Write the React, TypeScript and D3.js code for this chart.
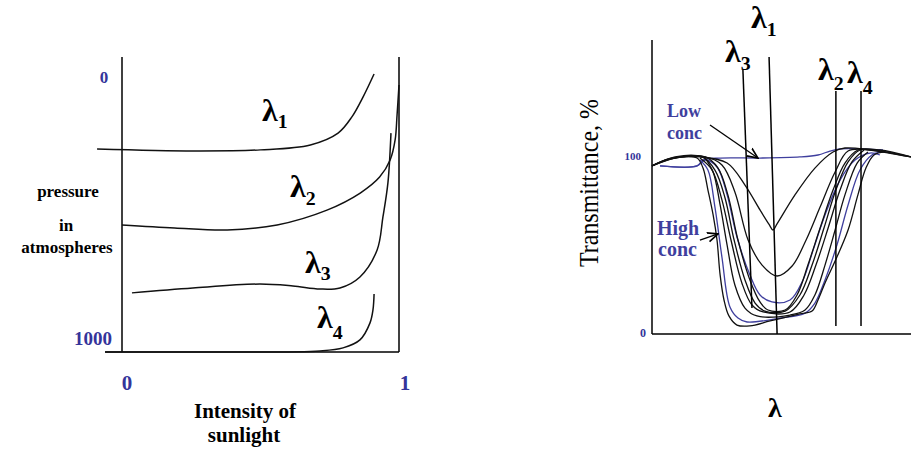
import * as d3 from 'd3'

// ---- left panel: pressure vs intensity of sunlight ----
// points are [intensity, pressure in atm]
const lambda1 = [[-0.09, 262], [0.26, 269], [0.5, 265], [0.68, 247], [0.78, 204], [0.83, 145], [0.87, 73], [0.91, -11]]
const lambda2 = [[0, 538], [0.19, 549], [0.38, 556], [0.56, 538], [0.74, 484], [0.86, 422], [0.93, 364], [0.968, 302], [0.986, 229], [0.993, 138], [1.0, 29]]
const lambda3 = [[0.036, 785], [0.256, 767], [0.498, 753], [0.617, 760], [0.715, 771], [0.787, 767], [0.859, 727], [0.921, 629], [0.942, 509], [0.96, 385], [0.971, 204]]
const lambda4 = [[-0.061, 1000], [0.379, 1000], [0.715, 996], [0.798, 985], [0.859, 956], [0.895, 895], [0.906, 847], [0.91, 789]]
const pressureTicks = ['0', '1000']
const intensityTicks = ['0', '1']

// ---- right panel: transmittance spectra ----
// points are [wavelength (arbitrary units), transmittance %]
const lowConc = [[3.1, 93.9], [17.4, 93.9], [19.7, 97.2], [26.3, 98.3], [41.7, 98.3], [57.1, 98.9], [64.1, 100], [68.7, 102.2], [72.6, 103.4], [81.1, 103.4], [89.2, 102.8]]
const specA = [[0, 93.9], [6.9, 97.8], [18.5, 98.9], [29.0, 95.5], [35.9, 83.2], [41.7, 69.3], [45.2, 61.2], [46.7, 58.1], [48.4, 61.8], [55.2, 77.7], [62.9, 92.7], [69.9, 101.7], [74.5, 103.9], [84.2, 102.8], [100, 98.9]]
const specB = [[0, 93.9], [7.7, 98.3], [20.5, 98.9], [27.0, 94.4], [32.0, 79.3], [37.1, 52.5], [42.5, 38.5], [48.3, 32.4], [54.1, 38.0], [59.5, 52.5], [64.9, 70.9], [70.7, 90.5], [75.7, 102.2], [84.2, 102.8], [100, 98.9]]
const specC = [[3.1, 93.9], [17.4, 93.9], [20.5, 97.2], [25.1, 93.3], [29.0, 77.7], [32.8, 54.2], [37.8, 33.0], [41.7, 21.8], [46.3, 17.9], [53.3, 19.0], [58.3, 30.2], [62.2, 46.9], [66.8, 66.5], [72.6, 86.0], [78.4, 97.2], [84.2, 101.1], [88.0, 100]]
const specD = [[0, 93.9], [8.9, 98.3], [20.5, 98.9], [25.5, 92.7], [29.3, 77.7], [33.2, 52.5], [37.8, 30.2], [41.7, 17.9], [44.8, 13.4], [51.4, 13.4], [56.0, 21.8], [60.2, 38.5], [64.9, 59.2], [69.9, 80.4], [74.5, 95.5], [79.5, 102.8], [88.0, 102.8], [100, 98.9]]
const specE = [[0, 93.9], [8.9, 98.9], [19.3, 98.9], [24.3, 91.6], [28.2, 76.0], [31.7, 52.5], [35.9, 30.2], [39.8, 17.3], [43.6, 12.8], [51.4, 12.8], [57.1, 21.8], [61.8, 38.5], [66.4, 59.2], [71.0, 80.4], [75.7, 96.1], [80.3, 102.8], [88.0, 102.2]]
const specF = [[18.5, 98.3], [23.2, 91.6], [27.0, 74.9], [30.5, 52.5], [34.7, 28.5], [38.6, 16.2], [42.9, 12.3], [53.3, 12.3], [58.7, 21.8], [63.3, 38.5], [68.0, 59.2], [72.6, 80.4], [77.2, 96.1], [81.9, 102.8]]
const specG = [[20.5, 98.3], [23.6, 90.5], [26.3, 72.1], [29.0, 49.7], [32.0, 27.4], [35.9, 14.5], [40.5, 10.1], [53.3, 10.6], [59.1, 13.4], [62.9, 21.8], [66.8, 38.5], [70.7, 58.1], [74.5, 77.7], [79.2, 95.5], [83.4, 101.7]]
const specH = [[18.5, 97.2], [21.6, 91.6], [24.3, 70.9], [27.0, 43.0], [30.1, 15.1], [33.2, 8.9], [36.7, 6.7], [49.4, 8.9], [59.1, 11.7], [62.9, 17.3], [66.8, 30.2], [71.4, 49.7], [75.7, 72.1], [80.3, 91.6], [84.9, 100], [88.8, 101.7]]
const specI = [[0, 93.9], [10.8, 98.9], [17.4, 98.3], [19.7, 92.7], [21.6, 80.4], [23.6, 66.5], [25.1, 52.5], [26.3, 33.0], [27.8, 19.0], [29.7, 10.1], [32.8, 5.0], [37.8, 4.5], [45.6, 7.3], [57.1, 11.2], [61.8, 12.8], [64.1, 19.0], [66.8, 28.5], [71.4, 43.0], [75.7, 58.1], [79.5, 77.7], [82.6, 92.7], [85.7, 100], [90.0, 101.7]]
const blackSpectra = [specA, specB, specD, specE, specF, specG, specI]
const blueSpectra = [specC, specH]
// wavelength marker lines: [x top, T top, x bottom, T bottom]
const markerLines = [[35.1, 147.5, 38.6, 14.5], [45.2, 154.7, 48.3, 0], [71, 135.8, 71, 4.5], [80.7, 135.8, 80.7, 4.5]]
const transTicks = ['0', '100']

const serif = '"Liberation Serif", "Times New Roman", serif'
const navy = '#34349a'
const blue = '#3f3f9e'

const Lam = ({ x, y, sub, size = 32, drop = 8 }) => (
  <text x={x} y={y} fontFamily={serif} fontSize={size} fontWeight="bold" fill="#000">
    λ<tspan fontSize={size * 0.62} dy={drop}>{sub}</tspan>
  </text>
)

export default function App() {
  // left scales
  const x = d3.scaleLinear().domain([0, 1]).range([122, 399])
  const y = d3.scaleLinear().domain([0, 1000]).range([77, 352])
  const leftLine = d3.line().x(d => x(d[0])).y(d => y(d[1])).curve(d3.curveCatmullRom.alpha(0.5))

  // right scales
  const xr = d3.scaleLinear().domain([0, 100]).range([652, 911])
  const yr = d3.scaleLinear().domain([0, 100]).range([334, 155])
  const specLine = d3.line().x(d => xr(d[0])).y(d => yr(d[1])).curve(d3.curveCatmullRom.alpha(0.5))

  return (
    <svg width={911} height={452} style={{ position: 'absolute', left: 0, top: 0, background: '#fff' }}>
      <defs>
        <marker id="arr" viewBox="0 0 10 10" refX="9" refY="5" markerWidth="9" markerHeight="9" orient="auto">
          <path d="M0,1 L9,5 L0,9" fill="none" stroke="#000" strokeWidth="1.4" />
        </marker>
      </defs>

      {/* left panel frame */}
      <g stroke="#000" strokeWidth={1.5} fill="none">
        <line x1={x(0)} x2={x(0)} y1={57} y2={y(1000)} />
        <line x1={x(1)} x2={x(1)} y1={57} y2={y(1000)} />
        <line x1={105} x2={x(1)} y1={y(1000)} y2={y(1000)} />
      </g>
      <g stroke="#111" strokeWidth={1.5} fill="none">
        {[lambda1, lambda2, lambda3, lambda4].map((c, i) => <path key={i} d={leftLine(c)} />)}
      </g>
      <Lam x={262} y={121} sub="1" drop={7} />
      <Lam x={290} y={197} sub="2" />
      <Lam x={305} y={273} sub="3" drop={7} />
      <Lam x={317} y={328} sub="4" drop={11} />

      <g fontFamily={serif} fontWeight="bold" fill={navy}>
        <text x={104} y={y(0) + 6} fontSize={17} textAnchor="middle">{pressureTicks[0]}</text>
        <text x={93} y={y(1000) - 7} fontSize={19} textAnchor="middle">{pressureTicks[1]}</text>
        <text x={x(0) + 5} y={390} fontSize={21} textAnchor="middle">{intensityTicks[0]}</text>
        <text x={x(1) + 6} y={390} fontSize={21} textAnchor="middle">{intensityTicks[1]}</text>
      </g>
      <g fontFamily={serif} fontWeight="bold" fill="#000" textAnchor="middle">
        <text x={68} y={197} fontSize={17}>pressure</text>
        <text x={66} y={231} fontSize={17}>in</text>
        <text x={67} y={253} fontSize={17}>atmospheres</text>
        <text x={245} y={418} fontSize={21}>Intensity of</text>
        <text x={244} y={442} fontSize={21}>sunlight</text>
      </g>

      {/* right panel axes */}
      <g stroke="#000" strokeWidth={1.5}>
        <line x1={xr(0)} x2={xr(0)} y1={40} y2={yr(0)} />
        <line x1={xr(0)} x2={xr(100)} y1={yr(0)} y2={yr(0)} />
      </g>
      <g fontFamily={serif} fontWeight="bold" fill={navy} textAnchor="end">
        <text x={xr(0) - 11} y={yr(100) + 5} fontSize={11}>{transTicks[1]}</text>
        <text x={xr(0) - 6} y={yr(0) + 3} fontSize={12}>{transTicks[0]}</text>
      </g>
      <text transform="translate(598,183) rotate(-90)" textAnchor="middle" fontFamily={serif} fontSize={27}
        textLength={168} lengthAdjust="spacingAndGlyphs">Transmittance, %</text>
      <text x={768} y={417} fontFamily={serif} fontSize={28} fontWeight="bold">λ</text>

      <g fill="none" strokeWidth={1.3}>
        {blueSpectra.map((c, i) => <path key={'b' + i} d={specLine(c)} stroke={blue} />)}
        <path d={specLine(lowConc)} stroke={blue} />
        {blackSpectra.map((c, i) => <path key={'k' + i} d={specLine(c)} stroke="#111" />)}
      </g>
      <g stroke="#000" strokeWidth={1.5}>
        {markerLines.map((m, i) => <line key={i} x1={xr(m[0])} y1={yr(m[1])} x2={xr(m[2])} y2={yr(m[3])} />)}
      </g>
      <Lam x={751} y={28} sub="1" />
      <Lam x={725} y={62} sub="3" />
      <Lam x={818} y={80} sub="2" drop={10} />
      <Lam x={847} y={83} sub="4" drop={11} />

      <g fontFamily={serif} fontWeight="bold" fill={blue}>
        <text x={667} y={117} fontSize={18}>Low</text>
        <text x={667} y={139} fontSize={18}>conc</text>
        <text x={657} y={235} fontSize={20}>High</text>
        <text x={658} y={256} fontSize={20}>conc</text>
      </g>
      <g stroke="#000" strokeWidth={1.3} fill="none">
        <line x1={xr(22.4)} y1={yr(116.8)} x2={xr(40.9)} y2={yr(98.3)} markerEnd="url(#arr)" />
        <line x1={xr(18.5)} y1={yr(52.5)} x2={xr(25.5)} y2={yr(55.9)} markerEnd="url(#arr)" />
      </g>
    </svg>
  )
}
